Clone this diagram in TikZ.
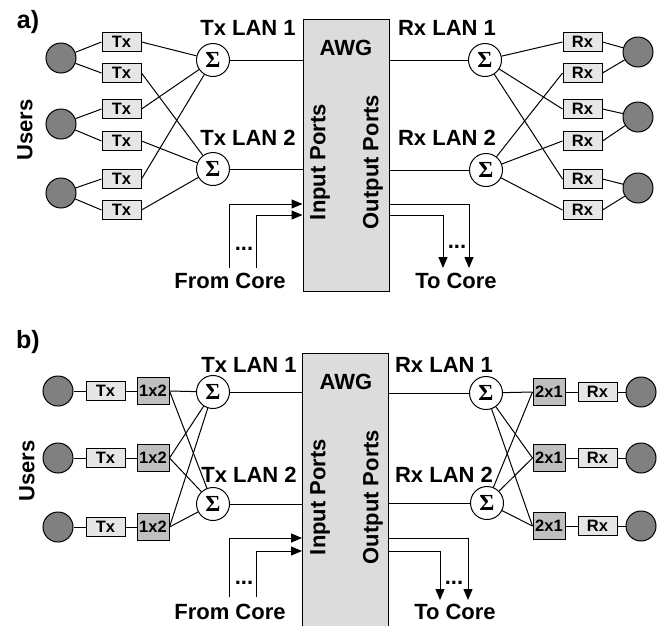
\documentclass[tikz,border=0pt]{standalone}
\usepackage{fontspec}
\setmainfont{Liberation Sans}
\newfontfamily\sigmafont{Liberation Serif}
\usetikzlibrary{arrows.meta,positioning}
\definecolor{usergray}{HTML}{808080}
\definecolor{boxgray}{HTML}{E6E6E6}
\definecolor{splitgray}{HTML}{BFBFBF}
\definecolor{awggray}{HTML}{DCDCDC}

\begin{document}
\begin{tikzpicture}[
  x=1pt,y=-1pt,line width=1pt,
  usr/.style={circle,draw,fill=usergray,minimum size=30pt,inner sep=0pt},
  trxbox/.style={draw,fill=boxgray,minimum width=39pt,minimum height=19pt,inner sep=0pt,
                 font=\fontsize{16.5}{16.5}\selectfont\bfseries},
  splitbox/.style={draw,fill=splitgray,minimum width=32pt,minimum height=27pt,inner sep=0pt,
                   font=\fontsize{16.5}{16.5}\selectfont\bfseries},
  sumnode/.style={circle,draw,fill=white,minimum size=33pt,inner sep=0pt,
                  font=\sigmafont\fontsize{23}{23}\selectfont\bfseries},
  lbl/.style={inner sep=0pt,font=\fontsize{22}{22}\selectfont\bfseries},
  tag/.style={inner sep=0pt,font=\fontsize{25}{25}\selectfont\bfseries},
  awg/.style={draw,fill=awggray,minimum width=86pt,inner sep=0pt},
  arr/.style={-{Triangle[length=11pt,width=9pt]}}
]
  \useasboundingbox (0,0) rectangle (662,625);

  % ---------- a) ----------
  \node[tag] (tagA) at (28,22) {a)};
  \node[lbl,rotate=90] (usersA) at (25,130) {Users};
  \node[awg,minimum height=272pt] (awgA) at (346,155) {};
  \node[lbl,anchor=base] (awgtA) at (346,55) {AWG};
  \node[lbl,rotate=90] (inA) at (320,162) {Input Ports};
  \node[lbl,rotate=90] (outA) at (373,162) {Output Ports};

  \node[usr] (userA1) at (61,58) {};
  \node[usr] (userA2) at (61,124) {};
  \node[usr] (userA3) at (61,193) {};
  \foreach \i/\y in {1/42,2/73,3/109,4/141,5/179,6/210} {
    \node[trxbox] (txA\i) at (121.5,\y) {Tx};
    \node[trxbox] (rxA\i) at (582.5,\y) {Rx};
  }
  \node[usr] (ruserA1) at (638,52) {};
  \node[usr] (ruserA2) at (638,117) {};
  \node[usr] (ruserA3) at (638,188) {};

  \node[sumnode] (sumTxA1) at (213,60) {Σ};
  \node[sumnode] (sumTxA2) at (213,169) {Σ};
  \node[sumnode] (sumRxA1) at (485,60) {Σ};
  \node[sumnode] (sumRxA2) at (486,170) {Σ};
  \node[lbl,anchor=base] (ltxA1) at (248,35) {Tx LAN 1};
  \node[lbl,anchor=base] (ltxA2) at (248,145) {Tx LAN 2};
  \node[lbl,anchor=base] (lrxA1) at (447,35) {Rx LAN 1};
  \node[lbl,anchor=base] (lrxA2) at (447,145) {Rx LAN 2};

  \foreach \u/\a/\b in {1/1/2,2/3/4,3/5/6} {
    \draw (userA\u) -- (txA\a.west);
    \draw (userA\u) -- (txA\b.west);
    \draw (ruserA\u) -- (rxA\a.east);
    \draw (ruserA\u) -- (rxA\b.east);
  }
  \foreach \i/\s in {1/1,2/2,3/1,4/2,5/1,6/2} {
    \draw (txA\i.east) -- (sumTxA\s);
    \draw (sumRxA\s) -- (rxA\i.west);
  }
  \draw (sumTxA1) -- (sumTxA1 -| awgA.west);
  \draw (sumTxA2) -- (sumTxA2 -| awgA.west);
  \draw (awgA.east |- sumRxA1) -- (sumRxA1);
  \draw (awgA.east |- sumRxA2) -- (sumRxA2);

  \coordinate (fromA1) at (229,268);
  \coordinate (fromA2) at (256,268);
  \coordinate (toA1) at (469,268);
  \coordinate (toA2) at (443,268);
  \draw[arr] (fromA1) |- (awgA.west |- 0,204);
  \draw[arr] (fromA2) |- (awgA.west |- 0,215);
  \draw[arr] (awgA.east |- 0,204) -| (toA1);
  \draw[arr] (awgA.east |- 0,215) -| (toA2);
  \node[lbl,anchor=base] (dotsinA) at (244,250) {...};
  \node[lbl,anchor=base] (dotsoutA) at (457,248) {...};
  \node[lbl,anchor=base] (coreinA) at (230,288) {From Core};
  \node[lbl,anchor=base] (coreoutA) at (456,288) {To Core};

  % ---------- b) ----------
  \node[tag] (tagB) at (28,342) {b)};
  \node[lbl,rotate=90] (usersB) at (27,471) {Users};
  \node[awg,minimum height=277pt] (awgB) at (345.5,491.5) {};
  \node[lbl,anchor=base] (awgtB) at (346,389) {AWG};
  \node[lbl,rotate=90] (inB) at (320,497) {Input Ports};
  \node[lbl,rotate=90] (outB) at (373,497) {Output Ports};

  \foreach \i/\y/\r in {1/391/392,2/458/458,3/527/526} {
    \node[usr] (userB\i) at (58,\y) {};
    \node[trxbox] (txB\i) at (105.5,\y) {Tx};
    \node[splitbox] (splB\i) at (153,\y) {1x2};
    \node[splitbox] (cmbB\i) at (549,\r) {2x1};
    \node[trxbox] (rxB\i) at (597.5,\r) {Rx};
    \node[usr] (ruserB\i) at (641,\r) {};
  }

  \node[sumnode] (sumTxB1) at (213,392) {Σ};
  \node[sumnode] (sumTxB2) at (213,504) {Σ};
  \node[sumnode] (sumRxB1) at (486,393) {Σ};
  \node[sumnode] (sumRxB2) at (487,503) {Σ};
  \node[lbl,anchor=base] (ltxB1) at (249,372) {Tx LAN 1};
  \node[lbl,anchor=base] (ltxB2) at (249,482) {Tx LAN 2};
  \node[lbl,anchor=base] (lrxB1) at (444,372) {Rx LAN 1};
  \node[lbl,anchor=base] (lrxB2) at (444,482) {Rx LAN 2};

  \foreach \i in {1,2,3} {
    \draw (userB\i) -- (txB\i);
    \draw (txB\i) -- (splB\i);
    \draw (splB\i.east) -- (sumTxB1);
    \draw (splB\i.east) -- (sumTxB2);
    \draw (sumRxB1) -- (cmbB\i.west);
    \draw (sumRxB2) -- (cmbB\i.west);
    \draw (cmbB\i) -- (rxB\i);
    \draw (rxB\i) -- (ruserB\i);
  }
  \draw (sumTxB1) -- (sumTxB1 -| awgB.west);
  \draw (sumTxB2) -- (sumTxB2 -| awgB.west);
  \draw (awgB.east |- sumRxB1) -- (sumRxB1);
  \draw (awgB.east |- sumRxB2) -- (sumRxB2);

  \coordinate (fromB1) at (229,597);
  \coordinate (fromB2) at (256,597);
  \coordinate (toB1) at (468,600);
  \coordinate (toB2) at (440,600);
  \draw[arr] (fromB1) |- (awgB.west |- 0,538);
  \draw[arr] (fromB2) |- (awgB.west |- 0,551);
  \draw[arr] (awgB.east |- 0,538) -| (toB1);
  \draw[arr] (awgB.east |- 0,551) -| (toB2);
  \node[lbl,anchor=base] (dotsinB) at (244,584) {...};
  \node[lbl,anchor=base] (dotsoutB) at (454,584) {...};
  \node[lbl,anchor=base] (coreinB) at (230,619) {From Core};
  \node[lbl,anchor=base] (coreoutB) at (455,619) {To Core};
\end{tikzpicture}
\end{document}
